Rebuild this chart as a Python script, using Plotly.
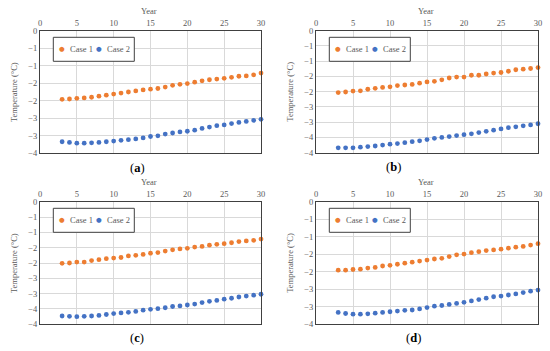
import plotly.graph_objects as go

# ---------------- data ----------------
years = list(range(3, 31))

case1_a = [-1.96, -1.95, -1.93, -1.92, -1.90, -1.87, -1.84, -1.81, -1.78, -1.75, -1.72, -1.69, -1.67, -1.65,
           -1.61, -1.56, -1.53, -1.51, -1.47, -1.43, -1.40, -1.38, -1.36, -1.33, -1.30, -1.29, -1.26, -1.21]
case2_a = [-3.17, -3.19, -3.21, -3.21, -3.20, -3.19, -3.17, -3.15, -3.13, -3.11, -3.09, -3.06, -3.02, -3.00,
           -2.95, -2.92, -2.89, -2.87, -2.84, -2.79, -2.75, -2.71, -2.69, -2.65, -2.62, -2.59, -2.56, -2.53]

case1_b = [-2.03, -2.01, -1.98, -1.97, -1.92, -1.89, -1.86, -1.84, -1.80, -1.78, -1.76, -1.72, -1.68, -1.66,
           -1.61, -1.55, -1.52, -1.52, -1.46, -1.46, -1.42, -1.39, -1.37, -1.33, -1.28, -1.26, -1.24, -1.21]
case2_b = [-3.84, -3.84, -3.84, -3.82, -3.80, -3.78, -3.75, -3.72, -3.70, -3.67, -3.64, -3.61, -3.57, -3.53,
           -3.50, -3.47, -3.44, -3.41, -3.38, -3.34, -3.30, -3.26, -3.22, -3.18, -3.15, -3.12, -3.09, -3.05]

case1_c = [-2.01, -2.00, -1.97, -1.97, -1.92, -1.89, -1.86, -1.84, -1.82, -1.77, -1.75, -1.72, -1.68, -1.66,
           -1.61, -1.57, -1.54, -1.52, -1.48, -1.46, -1.42, -1.39, -1.37, -1.34, -1.30, -1.28, -1.26, -1.22]
case2_c = [-3.73, -3.74, -3.75, -3.74, -3.73, -3.71, -3.68, -3.65, -3.63, -3.61, -3.58, -3.54, -3.51, -3.49,
           -3.46, -3.42, -3.40, -3.37, -3.34, -3.29, -3.25, -3.22, -3.18, -3.15, -3.11, -3.08, -3.05, -3.02]

case1_d = [-1.96, -1.96, -1.94, -1.93, -1.90, -1.88, -1.84, -1.82, -1.79, -1.76, -1.73, -1.70, -1.67, -1.64,
           -1.62, -1.57, -1.52, -1.50, -1.46, -1.43, -1.40, -1.38, -1.36, -1.33, -1.30, -1.28, -1.24, -1.20]
case2_d = [-3.17, -3.20, -3.22, -3.22, -3.21, -3.19, -3.17, -3.15, -3.13, -3.11, -3.10, -3.07, -3.03, -2.99,
           -2.97, -2.94, -2.91, -2.88, -2.84, -2.80, -2.76, -2.72, -2.70, -2.67, -2.64, -2.60, -2.56, -2.53]

series_names = ["Case 1", "Case 2"]
panel_labels = ["a", "b", "c", "d"]
x_title = "Year"
y_title = "Temperature (°C)"

x_tick_vals = [0, 5, 10, 15, 20, 25, 30]
x_tick_text = ["0", "5", "10", "15", "20", "25", "30"]
y_tick_vals_35 = [0, -0.5, -1.0, -1.5, -2.0, -2.5, -3.0, -3.5]
y_tick_text_35 = ["0", "−1", "−1", "−2", "−2", "−3", "−3", "−4"]
y_tick_vals_40 = [0, -0.5, -1.0, -1.5, -2.0, -2.5, -3.0, -3.5, -4.0]
y_tick_text_40 = ["0", "−1", "−1", "−2", "−2", "−3", "−3", "−4", "−4"]

panel_series = [(case1_a, case2_a), (case1_b, case2_b), (case1_c, case2_c), (case1_d, case2_d)]
panel_yticks = [(y_tick_vals_35, y_tick_text_35), (y_tick_vals_40, y_tick_text_40),
                (y_tick_vals_40, y_tick_text_40), (y_tick_vals_35, y_tick_text_35)]

# ---------------- style / layout ----------------
W, H = 550, 351
COLORS = ["#ED7D31", "#4472C4"]
TXT = "#595959"
FRAME = "#404040"
GRID = "#D9D9D9"
FONT = "Liberation Serif, Times New Roman, DejaVu Serif, serif"

# plot boxes in pixels: left, right, top, bottom
boxes = [(40, 261, 30.7, 153.3), (316, 538, 30.7, 152.7),
         (40, 261, 201.7, 324.3), (316, 538, 201.7, 324.0)]
label_pos = [(137, 168), (393, 167), (137, 338), (413, 338)]


def px(x):
    return x / W


def py(y):
    return 1 - y / H


fig = go.Figure()
annotations = []
shapes = []

for i, ((s1, s2), (tv, tt), (L, R, T, B)) in enumerate(zip(panel_series, panel_yticks, boxes)):
    n = "" if i == 0 else str(i + 1)
    for name, vals, col in zip(series_names, (s1, s2), COLORS):
        fig.add_trace(go.Scatter(
            x=years, y=vals, mode="markers", name=name, showlegend=False,
            marker=dict(color=col, size=4.8, line=dict(width=0)),
            xaxis="x" + n, yaxis="y" + n, cliponaxis=False))
    fig.layout["xaxis" + n] = dict(
        domain=[px(L), px(R)], anchor="y" + n, side="top", range=[0, 30],
        tickvals=x_tick_vals, ticktext=x_tick_text, ticks="",
        showgrid=True, gridcolor=GRID, gridwidth=1, zeroline=False,
        showline=True, mirror=True, linecolor=FRAME, linewidth=1, color=TXT,
        tickfont=dict(family=FONT, size=8.5, color=TXT), automargin=False)
    fig.layout["yaxis" + n] = dict(
        domain=[py(B), py(T)], anchor="x" + n, range=[tv[-1], 0],
        tickvals=tv, ticktext=tt, ticks="",
        showgrid=True, gridcolor=GRID, gridwidth=1, zeroline=False,
        showline=True, mirror=True, linecolor=FRAME, linewidth=1, color=TXT,
        tickfont=dict(family=FONT, size=8.5, color=TXT), automargin=False)

    # axis titles
    annotations.append(dict(text=x_title, x=px((L + R) / 2 - 1.5), y=py(T - 19.7), xref="paper", yref="paper",
                            showarrow=False, xanchor="center", yanchor="middle",
                            font=dict(family=FONT, size=8.5, color=TXT)))
    annotations.append(dict(text=y_title, x=px(L - 26), y=py((T + B) / 2), xref="paper", yref="paper",
                            showarrow=False, xanchor="center", yanchor="middle", textangle=-90,
                            font=dict(family=FONT, size=8.5, color=TXT)))
    # panel label
    lx, ly = label_pos[i]
    annotations.append(dict(text="(<b>" + panel_labels[i] + "</b>)", x=px(lx), y=py(ly), xref="paper", yref="paper",
                            showarrow=False, xanchor="center", yanchor="middle",
                            font=dict(family=FONT, size=12.5, color="#000000")))
    # legend box (drawn manually to match the compact original legend)
    bl, bt = L + 13.3, T + 6.6
    br, bb = bl + 81, bt + 24
    shapes.append(dict(type="rect", xref="paper", yref="paper", x0=px(bl), x1=px(br), y0=py(bb), y1=py(bt),
                       line=dict(color=FRAME, width=1), fillcolor="white", layer="above"))
    cy = (bt + bb) / 2
    for k, (name, col) in enumerate(zip(series_names, COLORS)):
        dx = bl + 8.7 + k * 37
        annotations.append(dict(text="●", x=px(dx), y=py(cy), xref="paper", yref="paper", showarrow=False,
                                xanchor="center", yanchor="middle",
                                font=dict(family="DejaVu Sans", size=6.5, color=col)))
        annotations.append(dict(text=name, x=px(dx + 5.5), y=py(cy), xref="paper", yref="paper", showarrow=False,
                                xanchor="left", yanchor="middle",
                                font=dict(family=FONT, size=8.5, color=TXT)))

fig.update_layout(
    template="none",
    width=W, height=H, margin=dict(l=0, r=0, t=0, b=0),
    font=dict(family=FONT, size=8.5, color=TXT),
    paper_bgcolor="white", plot_bgcolor="white", hovermode=False,
    annotations=annotations, shapes=shapes, showlegend=False)

fig.write_html("out.html",
               config={"displayModeBar": False, "staticPlot": True},
               post_script="document.body.style.margin='0';document.body.style.overflow='hidden';")
